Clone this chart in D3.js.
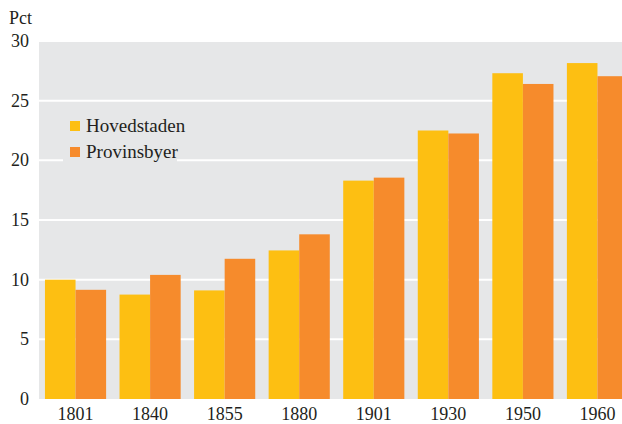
<!DOCTYPE html>
<html>
<head>
<meta charset="utf-8">
<script src="https://cdn.jsdelivr.net/npm/d3@7"></script>
<style>
  body { margin: 0; background: #fff; }
  svg text { font-family: "Liberation Serif", "DejaVu Serif", serif; fill: #231f20; }
</style>
</head>
<body>
<svg id="chart" width="622" height="424"></svg>
<script>
// data
var years = ['1801', '1840', '1855', '1880', '1901', '1930', '1950', '1960'];
var hovedstaden = [10.0, 8.75, 9.1, 12.45, 18.3, 22.5, 27.3, 28.15];
var provinsbyer = [9.15, 10.4, 11.75, 13.8, 18.55, 22.25, 26.4, 27.05];
var seriesNames = ['Hovedstaden', 'Provinsbyer'];
var yTicks = [0, 5, 10, 15, 20, 25, 30];

var colors = ['#fdbf12', '#f68b2c'];
var svg = d3.select('#chart');

var plotLeft = 39, plotRight = 634, plotTop = 41, plotBottom = 399;

var y = d3.scaleLinear().domain([0, 30]).range([plotBottom, plotTop]);
var x = d3.scaleBand().domain(years).range([plotLeft, plotRight])
    .paddingInner(0.18).paddingOuter(0.08);
var xs = d3.scaleBand().domain(seriesNames).range([0, x.bandwidth()]);

// plot background
svg.append('rect')
    .attr('x', plotLeft).attr('y', y(30) + 1)
    .attr('width', 622 - plotLeft).attr('height', plotBottom - y(30) - 1)
    .attr('fill', '#e6e7e8');

// gridlines
svg.append('g').selectAll('line')
    .data(yTicks.filter(function(d) { return d > 0 && d < 30; }))
    .join('line')
    .attr('x1', plotLeft).attr('x2', 622)
    .attr('y1', function(d) { return y(d); })
    .attr('y2', function(d) { return y(d); })
    .style('stroke', '#fff')
    .style('stroke-width', 2);

// bars
var rows = years.map(function(yr, i) {
    return { year: yr, values: [hovedstaden[i], provinsbyer[i]] };
});

var groups = svg.append('g').selectAll('g')
    .data(rows)
    .join('g')
    .attr('transform', function(d) { return 'translate(' + x(d.year) + ',0)'; });

groups.selectAll('rect')
    .data(function(d) { return d.values.map(function(v, j) { return { name: seriesNames[j], v: v, j: j }; }); })
    .join('rect')
    .attr('x', function(d) { return xs(d.name); })
    .attr('width', xs.bandwidth())
    .attr('y', function(d) { return y(d.v); })
    .attr('height', function(d) { return plotBottom - y(d.v); })
    .attr('fill', function(d) { return colors[d.j]; });

// y axis labels
svg.append('g').selectAll('text')
    .data(yTicks)
    .join('text')
    .attr('x', 29)
    .attr('y', function(d) { return y(d) + 6; })
    .attr('text-anchor', 'end')
    .style('font-size', '18px')
    .text(function(d) { return d; });

svg.append('text')
    .attr('x', 9).attr('y', 24)
    .style('font-size', '18px')
    .text('Pct');

// x axis labels
svg.append('g').selectAll('text')
    .data(years)
    .join('text')
    .attr('x', function(d) { return x(d) + x.bandwidth() / 2; })
    .attr('y', 420)
    .attr('text-anchor', 'middle')
    .style('font-size', '18px')
    .text(function(d) { return d; });

// legend
var legend = svg.append('g');
legend.append('rect')
    .attr('x', 63).attr('y', 108)
    .attr('width', 114).attr('height', 58)
    .attr('fill', '#e6e7e8');

var items = legend.selectAll('g')
    .data(seriesNames)
    .join('g')
    .attr('transform', function(d, i) { return 'translate(70,' + (121 + i * 26) + ')'; });

items.append('rect')
    .attr('width', 10).attr('height', 10)
    .attr('fill', function(d, i) { return colors[i]; });

items.append('text')
    .attr('x', 16).attr('y', 11)
    .style('font-size', '19px')
    .text(function(d) { return d; });
</script>
</body>
</html>
